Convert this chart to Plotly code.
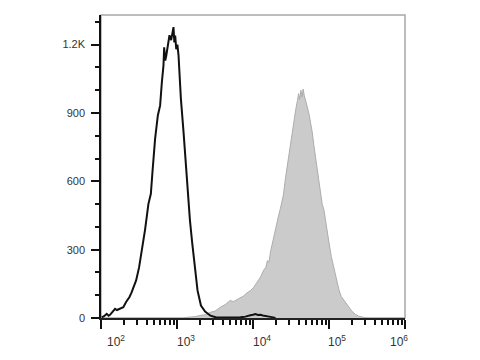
import plotly.graph_objects as go

# ---- data (log10 fluorescence, event count) ----
black_log = [2.009, 2.04, 2.075, 2.10, 2.119, 2.15, 2.185, 2.21, 2.251, 2.294, 2.33, 2.373, 2.40,
             2.426, 2.462, 2.501, 2.537, 2.56, 2.58, 2.624, 2.656, 2.677, 2.712, 2.748, 2.778,
             2.801, 2.822, 2.831, 2.845, 2.858, 2.88, 2.901, 2.923, 2.94, 2.954, 2.965, 2.976,
             2.99, 3.005, 3.02, 3.029, 3.051, 3.086, 3.13, 3.17, 3.20, 3.235, 3.27, 3.315, 3.37,
             3.44, 3.52, 3.636, 3.75, 3.834, 3.90, 3.93, 3.966, 4.0, 4.032, 4.065, 4.098, 4.13,
             4.164, 4.20, 4.23, 4.296]
black_count = [3, 8, 18, 10, 14, 25, 40, 35, 42, 47, 70, 91, 110,
               135, 165, 222, 296, 340, 388, 501, 545, 640, 787, 889, 933,
               1036, 1108, 1188, 1130, 1150, 1210, 1241, 1220, 1250, 1277, 1210, 1240,
               1180, 1200, 1153, 1080, 963, 816, 590, 430, 330, 215, 121, 55, 28,
               10, 2, 2, 1, 3, 6, 10, 12, 14, 17, 13, 14, 11,
               10, 6, 5, 0]

gray_log = [3.10, 3.17, 3.24, 3.30, 3.37, 3.44, 3.50, 3.57, 3.64, 3.70, 3.745, 3.81, 3.87, 3.92,
            3.97, 4.01, 4.06, 4.10, 4.14, 4.17, 4.19, 4.21, 4.23, 4.27, 4.30, 4.33, 4.36, 4.40,
            4.43, 4.46, 4.48, 4.51, 4.53, 4.56, 4.585, 4.60, 4.615, 4.63, 4.645, 4.66, 4.675,
            4.70, 4.715, 4.74, 4.765, 4.78, 4.80, 4.82, 4.845, 4.867, 4.89, 4.91, 4.933, 4.96,
            4.99, 5.0, 5.03, 5.065, 5.10, 5.13, 5.16, 5.19, 5.24, 5.27, 5.30, 5.35, 5.39, 5.44, 5.50]
gray_count = [2, 4, 6, 11, 14, 25, 30, 47, 60, 77, 72, 85, 95, 110,
              121, 135, 160, 180, 210, 223, 252, 245, 290, 355, 400, 440, 480, 540,
              620, 690, 740, 810, 850, 910, 955, 985, 960, 1000, 970, 1005, 975,
              950, 926, 890, 850, 815, 760, 715, 660, 604, 540, 500, 475, 410,
              350, 330, 270, 215, 160, 125, 95, 80, 55, 40, 30, 15, 8, 4, 0]

y_tick_vals = [0, 300, 600, 900, 1200]
y_tick_text = ["0", "300", "600", "900", "1.2K"]
x_decades = [2, 3, 4, 5, 6]
x_tick_text = ["10<sup>%d</sup>" % d for d in x_decades]

fig = go.Figure()
fig.add_trace(go.Scatter(
    x=[10 ** v for v in gray_log], y=gray_count, mode="lines",
    line=dict(color="#adadad", width=1), fill="tozeroy", fillcolor="#cbcbcb",
    hoverinfo="skip", showlegend=False))
fig.add_trace(go.Scatter(
    x=[10 ** v for v in black_log], y=black_count, mode="lines",
    line=dict(color="#111111", width=2), hoverinfo="skip", showlegend=False))

minor_x = [m * 10 ** d for d in x_decades[:-1] for m in range(2, 10)]

fig.update_layout(
    width=480, height=360,
    margin=dict(l=101, r=75, t=15, b=42),
    paper_bgcolor="white", plot_bgcolor="white",
    font=dict(family="Liberation Sans, Arial, sans-serif", size=11, color="#333333"),
    xaxis=dict(
        type="log", range=[2, 6], showgrid=False, zeroline=False,
        showline=True, linecolor="#222222", linewidth=1.5,
        ticks="outside", ticklen=9, tickwidth=2, tickcolor="#111111",
        tickvals=[10 ** d for d in x_decades], showticklabels=False,
        minor=dict(tickvals=minor_x, ticks="outside", ticklen=5, tickwidth=1.5,
                   tickcolor="#111111", showgrid=False),
    ),
    yaxis=dict(
        range=[0, 1330], showgrid=False, zeroline=False,
        showline=True, linecolor="#111111", linewidth=1.5,
        ticks="outside", ticklen=8, tickwidth=2, tickcolor="#111111",
        tickvals=y_tick_vals, ticktext=y_tick_text, ticklabelstandoff=4,
        tickfont=dict(size=11, color="#333333"),
        minor=dict(dtick=100, ticks="outside", ticklen=4, tickwidth=1.5,
                   tickcolor="#111111", showgrid=False),
    ),
    shapes=[dict(type="rect", xref="paper", yref="paper", x0=0, x1=1, y0=0, y1=1,
                 line=dict(color="#a8a8a8", width=1.5), layer="below")],
)

label_shift = [15, 9, 9, 8, -6]
for d, txt, sh in zip(x_decades, x_tick_text, label_shift):
    fig.add_annotation(x=d, xref="x", y=0, yref="paper", text=txt, showarrow=False,
                       xanchor="center", yanchor="top", xshift=sh, yshift=-13,
                       font=dict(size=12, color="#333333"))

fig.write_html("out.html")
